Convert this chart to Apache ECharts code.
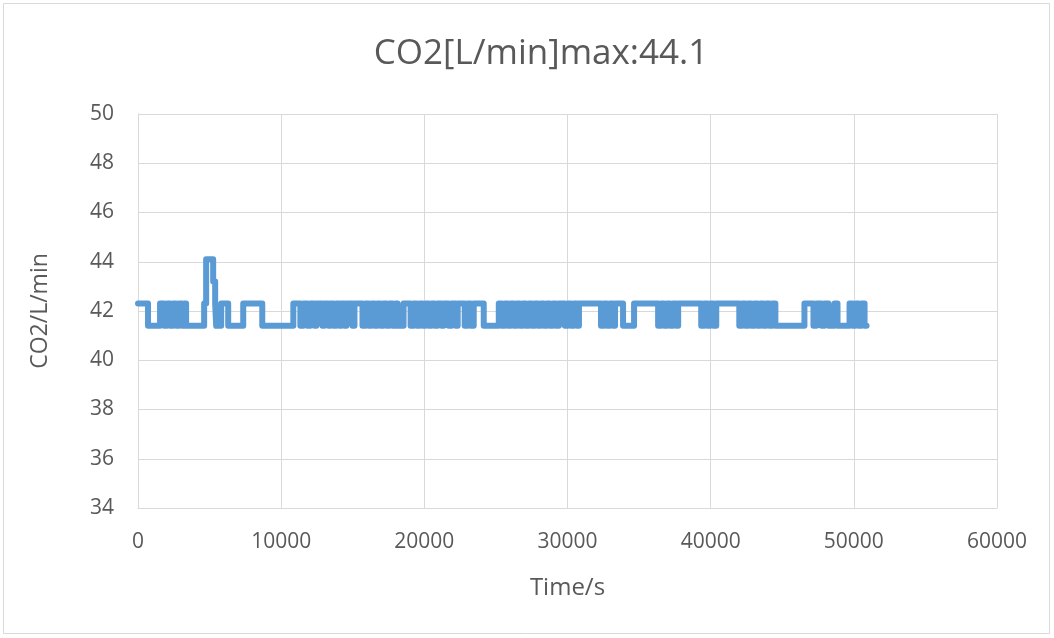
<!DOCTYPE html>
<html>
<head>
<meta charset="utf-8">
<script src="https://cdn.jsdelivr.net/npm/echarts@6/dist/echarts.min.js"></script>
<style>
  html, body { margin: 0; padding: 0; background: #ffffff; }
  #chart { width: 1054px; height: 638px; }
</style>
</head>
<body>
<div id="chart"></div>
<script>
// CO2 flow readings: each time (s) starts a new level that holds until the next time.
const times = [
  0, 700, 1540, 1820, 2030, 2240, 2450, 2660, 2870, 3080, 3220, 3360,
  4620, 4760, 5250, 5390, 5460, 5810, 6300, 7350, 8680,
  10850, 11340, 11550, 11830, 12040, 12320, 12460, 12880, 13020, 13300,
  13440, 13650, 13860, 14070, 14210, 14420, 14560, 14980, 15120,
  15680, 15890, 16100, 16310, 16520, 16730, 16940, 17150, 17360, 17570,
  17780, 17990, 18130, 18550,
  19040, 19250, 19460, 19670, 19880, 20090, 20300, 20510, 20720, 20930,
  21210, 21350, 21700, 21910, 22190, 22330, 22820, 23030, 23240, 23450,
  24150, 25200, 25410, 25620, 25830, 26040, 26250, 26460, 26670, 26880,
  27090, 27300, 27510, 27720, 27930, 28140, 28350, 28560, 28770, 28980,
  29190, 29400, 29820, 30030, 30240, 30450, 30660, 30800,
  32340, 32550, 32760, 32970, 33180, 33320, 33880, 34650,
  36330, 36540, 36750, 36960, 37170, 37380, 37590, 37730,
  39340, 39550, 39760, 39970, 40180, 40390,
  42000, 42210, 42420, 42630, 42840, 43050, 43260, 43470, 43680, 43890,
  44100, 44310, 44520,
  46550, 47180, 47390, 47740, 47950, 48230, 48650, 48860,
  49700, 49910, 50120, 50330, 50540, 50750, 50890
];
const co2 = [
  42.3, 41.4, 42.3, 41.4, 42.3, 41.4, 42.3, 41.4, 42.3, 41.4, 42.3, 41.4,
  42.3, 44.1, 43.2, 42.3, 41.4, 42.3, 41.4, 42.3, 41.4,
  42.3, 41.4, 42.3, 41.4, 42.3, 41.4, 42.3, 41.4, 42.3, 41.4,
  42.3, 41.4, 42.3, 41.4, 42.3, 41.4, 42.3, 41.4, 42.3,
  41.4, 42.3, 41.4, 42.3, 41.4, 42.3, 41.4, 42.3, 41.4, 42.3,
  41.4, 42.3, 41.4, 42.3,
  41.4, 42.3, 41.4, 42.3, 41.4, 42.3, 41.4, 42.3, 41.4, 42.3,
  41.4, 42.3, 41.4, 42.3, 41.4, 42.3, 41.4, 42.3, 41.4, 42.3,
  41.4, 42.3, 41.4, 42.3, 41.4, 42.3, 41.4, 42.3, 41.4, 42.3,
  41.4, 42.3, 41.4, 42.3, 41.4, 42.3, 41.4, 42.3, 41.4, 42.3,
  41.4, 42.3, 41.4, 42.3, 41.4, 42.3, 41.4, 42.3,
  41.4, 42.3, 41.4, 42.3, 41.4, 42.3, 41.4, 42.3,
  41.4, 42.3, 41.4, 42.3, 41.4, 42.3, 41.4, 42.3,
  41.4, 42.3, 41.4, 42.3, 41.4, 42.3,
  41.4, 42.3, 41.4, 42.3, 41.4, 42.3, 41.4, 42.3, 41.4, 42.3,
  41.4, 42.3, 41.4,
  42.3, 41.4, 42.3, 41.4, 42.3, 41.4, 42.3, 41.4,
  42.3, 41.4, 42.3, 41.4, 42.3, 41.4, 41.4
];

const titleText = 'CO2[L/min]max:44.1';
const xName = 'Time/s';
const yName = 'CO2/L/min';

const textColor = '#595959';
const gridColor = '#d9d9d9';
const fontFamily = '"Open Sans", sans-serif';

const chart = echarts.init(document.getElementById('chart'), null, { renderer: 'canvas' });

chart.setOption({
  animation: false,
  backgroundColor: '#ffffff',
  title: {
    text: titleText,
    left: 536,
    top: 32,
    textAlign: 'center',
    textStyle: { color: textColor, fontSize: 35, fontWeight: 'normal', fontFamily: fontFamily }
  },
  graphic: [{
    type: 'rect',
    shape: { x: 3.5, y: 3.5, width: 1046, height: 630 },
    style: { fill: 'none', stroke: gridColor, lineWidth: 1 },
    silent: true
  }],
  grid: { left: 138, right: 57, top: 114, bottom: 130, containLabel: false },
  xAxis: {
    type: 'value',
    min: 0, max: 60000, interval: 10000,
    name: xName,
    nameLocation: 'middle',
    nameGap: 68,
    nameTextStyle: { color: textColor, fontSize: 24, fontFamily: fontFamily },
    axisLine: { show: true, lineStyle: { color: gridColor, width: 1 } },
    axisTick: { show: false },
    axisLabel: {
      color: textColor, fontSize: 21, fontFamily: fontFamily, margin: 24,
      formatter: (v) => String(v)
    },
    splitLine: { show: true, lineStyle: { color: gridColor, width: 1 } }
  },
  yAxis: {
    type: 'value',
    min: 34, max: 50, interval: 2,
    name: yName,
    nameLocation: 'middle',
    nameGap: 86,
    nameRotate: 90,
    nameTextStyle: { color: textColor, fontSize: 23, fontFamily: fontFamily },
    axisLine: { show: true, lineStyle: { color: gridColor, width: 1 } },
    axisTick: { show: false },
    axisLabel: {
      color: textColor, fontSize: 21, fontFamily: fontFamily, margin: 24,
      formatter: (v) => String(v)
    },
    splitLine: { show: true, lineStyle: { color: gridColor, width: 1 } }
  },
  series: [{
    type: 'line',
    step: 'end',
    data: times.map((t, i) => [t, co2[i]]),
    showSymbol: false,
    lineStyle: { color: '#5b9bd5', width: 6, join: 'round', cap: 'round' },
    itemStyle: { color: '#5b9bd5' }
  }]
});
</script>
</body>
</html>
